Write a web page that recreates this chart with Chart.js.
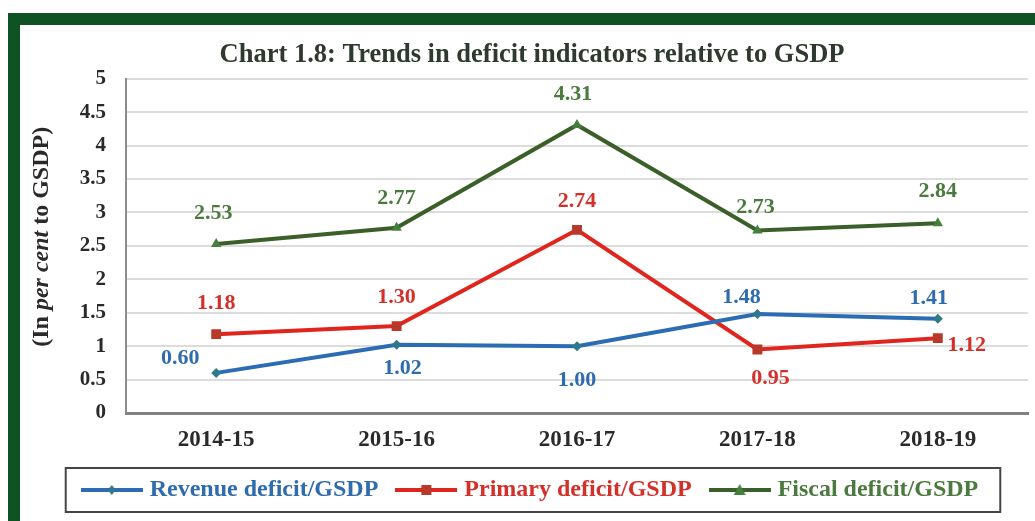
<!DOCTYPE html>
<html>
<head>
<meta charset="utf-8">
<title>Trends in deficit indicators relative to GSDP</title>
<script src="https://cdn.jsdelivr.net/npm/chart.js@4.4.1/dist/chart.umd.min.js"></script>
<style>
  html, body { margin: 0; padding: 0; background: #fff; overflow: hidden; }
  #wrap { position: relative; width: 1035px; height: 521px; overflow: hidden; }
  /* green box around the chart, runs off the right and bottom edges */
  #frame {
    position: absolute; left: 8px; top: 13px; width: 1200px; height: 700px;
    border-top: 12px solid #0f5224; border-left: 12px solid #0f5224;
  }
  #chart { position: absolute; left: 0; top: 0; }
</style>
</head>
<body>
<div id="wrap">
  <div id="frame"></div>
  <canvas id="chart" width="1035" height="521"></canvas>
</div>
<script>
var YEARS = ['2014-15', '2015-16', '2016-17', '2017-18', '2018-19'];
var REVENUE_DEFICIT = [0.60, 1.02, 1.00, 1.48, 1.41];
var PRIMARY_DEFICIT = [1.18, 1.30, 2.74, 0.95, 1.12];
var FISCAL_DEFICIT = [2.53, 2.77, 4.31, 2.73, 2.84];
var SERIES_NAMES = ['Revenue deficit/GSDP', 'Primary deficit/GSDP', 'Fiscal deficit/GSDP'];
var Y_MIN = 0;
var Y_MAX = 5;
var Y_STEP = 0.5;

var SERIF = "'Liberation Serif', 'Times New Roman', serif";

var COLORS = {
  revenue: '#2b6cb4',
  revenueMark: '#2f7a8a',
  revenueText: '#2f6cae',
  primary: '#e0251c',
  primaryMark: '#b8382a',
  primaryText: '#d4302a',
  fiscal: '#3b5f28',
  fiscalMark: '#44803c',
  fiscalText: '#4b7a3e',
  title: '#2e3a2e',
  text: '#2a2a2a',
};

// pixel nudges for the value labels, per series, per point [dx, dy]
var LABEL_OFFSETS = [
  [[-36, -15], [6, 23], [0, 34], [-16, -17], [-9, -20]],
  [[0, -31], [0, -29], [0, -29], [13, 29], [29, 7]],
  [[-3, -31], [0, -30], [-4, -31], [-2, -23], [0, -32]],
];

/**
 * Small legend icon: a short thick line with the series marker on it.
 */
function legendIcon(color, markColor, shape) {
  var c = document.createElement('canvas');
  c.width = 62;
  c.height = 16;
  var g = c.getContext('2d');
  g.fillStyle = color;
  g.fillRect(0, 6, 62, 4);
  g.fillStyle = markColor;
  g.beginPath();
  if (shape === 'rect') {
    g.rect(26, 3, 10, 10);
  } else if (shape === 'triangle') {
    g.moveTo(31, 2);
    g.lineTo(37, 13);
    g.lineTo(25, 13);
    g.closePath();
  } else {
    g.moveTo(31, 3);
    g.lineTo(35, 8);
    g.lineTo(31, 13);
    g.lineTo(27, 8);
    g.closePath();
  }
  g.fill();
  return c;
}

var LEGEND_ICONS = [
  legendIcon(COLORS.revenue, COLORS.revenueMark, 'diamond'),
  legendIcon(COLORS.primary, COLORS.primaryMark, 'rect'),
  legendIcon(COLORS.fiscal, COLORS.fiscalMark, 'triangle'),
];
var SERIES_TEXT_COLORS = [COLORS.revenueText, COLORS.primaryText, COLORS.fiscalText];

/**
 * Value labels next to every point.
 */
var valueLabels = {
  id: 'valueLabels',
  afterDatasetsDraw: function (chart) {
    var ctx = chart.ctx;
    ctx.save();
    ctx.font = 'bold 22px ' + SERIF;
    ctx.textAlign = 'center';
    ctx.textBaseline = 'middle';
    chart.data.datasets.forEach(function (ds, di) {
      var meta = chart.getDatasetMeta(di);
      ctx.fillStyle = SERIES_TEXT_COLORS[di];
      meta.data.forEach(function (pt, i) {
        var off = LABEL_OFFSETS[di][i];
        ctx.fillText(ds.data[i].toFixed(2), pt.x + off[0], pt.y + off[1]);
      });
    });
    ctx.restore();
  },
};

/**
 * Rotated y-axis title, with "per cent" set in italics.
 */
var yAxisTitle = {
  id: 'yAxisTitle',
  afterDraw: function (chart) {
    var ctx = chart.ctx;
    var parts = [
      ['(In ', 'bold'],
      ['per cent', 'italic bold'],
      [' to GSDP)', 'bold'],
    ];
    var size = 24;
    ctx.save();
    ctx.translate(42, chart.chartArea.top + 158);
    ctx.rotate(-Math.PI / 2);
    ctx.fillStyle = COLORS.text;
    ctx.textBaseline = 'middle';
    ctx.textAlign = 'left';
    var total = 0;
    parts.forEach(function (p) {
      ctx.font = p[1] + ' ' + size + 'px ' + SERIF;
      total += ctx.measureText(p[0]).width;
    });
    var x = -total / 2;
    parts.forEach(function (p) {
      ctx.font = p[1] + ' ' + size + 'px ' + SERIF;
      ctx.fillText(p[0], x, 0);
      x += ctx.measureText(p[0]).width;
    });
    ctx.restore();
  },
};

/**
 * Box around the legend row.
 */
var legendBorder = {
  id: 'legendBorder',
  afterDraw: function (chart) {
    var boxes = chart.legend && chart.legend.legendHitBoxes;
    if (!boxes || !boxes.length) return;
    var left = Infinity, right = -Infinity;
    boxes.forEach(function (b) {
      left = Math.min(left, b.left);
      right = Math.max(right, b.left + b.width);
    });
    var mid = boxes[0].top + boxes[0].height / 2;
    var ctx = chart.ctx;
    ctx.save();
    ctx.strokeStyle = '#454545';
    ctx.lineWidth = 2;
    ctx.strokeRect(left - 20, mid - 22, right - left + 42, 44);
    ctx.restore();
  },
};

var ctx = document.getElementById('chart');

new Chart(ctx, {
  type: 'line',
  data: {
    labels: YEARS,
    datasets: [
      {
        label: SERIES_NAMES[0],
        data: REVENUE_DEFICIT,
        borderColor: COLORS.revenue,
        backgroundColor: COLORS.revenueMark,
        borderWidth: 4,
        pointStyle: 'rectRot',
        pointRadius: 5,
        pointBorderWidth: 0,
      },
      {
        label: SERIES_NAMES[1],
        data: PRIMARY_DEFICIT,
        borderColor: COLORS.primary,
        backgroundColor: COLORS.primaryMark,
        borderWidth: 4,
        pointStyle: 'rect',
        pointRadius: 7,
        pointBorderWidth: 0,
      },
      {
        label: SERIES_NAMES[2],
        data: FISCAL_DEFICIT,
        borderColor: COLORS.fiscal,
        backgroundColor: COLORS.fiscalMark,
        borderWidth: 4,
        pointStyle: 'triangle',
        pointRadius: 6,
        pointBorderWidth: 0,
      },
    ],
  },
  options: {
    responsive: false,
    animation: false,
    layout: { padding: { left: 35, right: 6, top: 0, bottom: 9 } },
    plugins: {
      title: {
        display: true,
        text: 'Chart 1.8: Trends in deficit indicators relative to GSDP',
        color: COLORS.title,
        font: { family: SERIF, size: 26.5, weight: 'bold' },
        padding: { top: 39, bottom: 8 },
      },
      legend: {
        position: 'bottom',
        maxHeight: 70,
        labels: {
          usePointStyle: true,
          pointStyleWidth: 52,
          padding: 22,
          font: { family: SERIF, size: 24, weight: 'bold' },
          generateLabels: function (chart) {
            return chart.data.datasets.map(function (ds, i) {
              return {
                text: ds.label,
                fontColor: SERIES_TEXT_COLORS[i],
                pointStyle: LEGEND_ICONS[i],
                fillStyle: 'transparent',
                strokeStyle: 'transparent',
                lineWidth: 0,
                hidden: false,
                datasetIndex: i,
              };
            });
          },
        },
      },
      tooltip: { enabled: false },
    },
    scales: {
      x: {
        offset: true,
        grid: { drawOnChartArea: false, drawTicks: false },
        border: { color: '#808080', width: 3 },
        ticks: {
          color: COLORS.text,
          padding: 13,
          font: { family: SERIF, size: 23, weight: 'bold' },
        },
        afterFit: function (scale) { scale.height = 43; },
      },
      y: {
        min: Y_MIN,
        max: Y_MAX,
        grid: { color: '#dcdcdc', lineWidth: 2, drawTicks: false },
        border: { color: '#8c8c8c', width: 2 },
        ticks: {
          stepSize: Y_STEP,
          color: COLORS.text,
          padding: 20,
          font: { family: SERIF, size: 21, weight: 'bold' },
          callback: function (value) { return String(value); },
        },
        afterFit: function (scale) { scale.width = 91; },
      },
    },
  },
  plugins: [valueLabels, yAxisTitle, legendBorder],
});
</script>
</body>
</html>
